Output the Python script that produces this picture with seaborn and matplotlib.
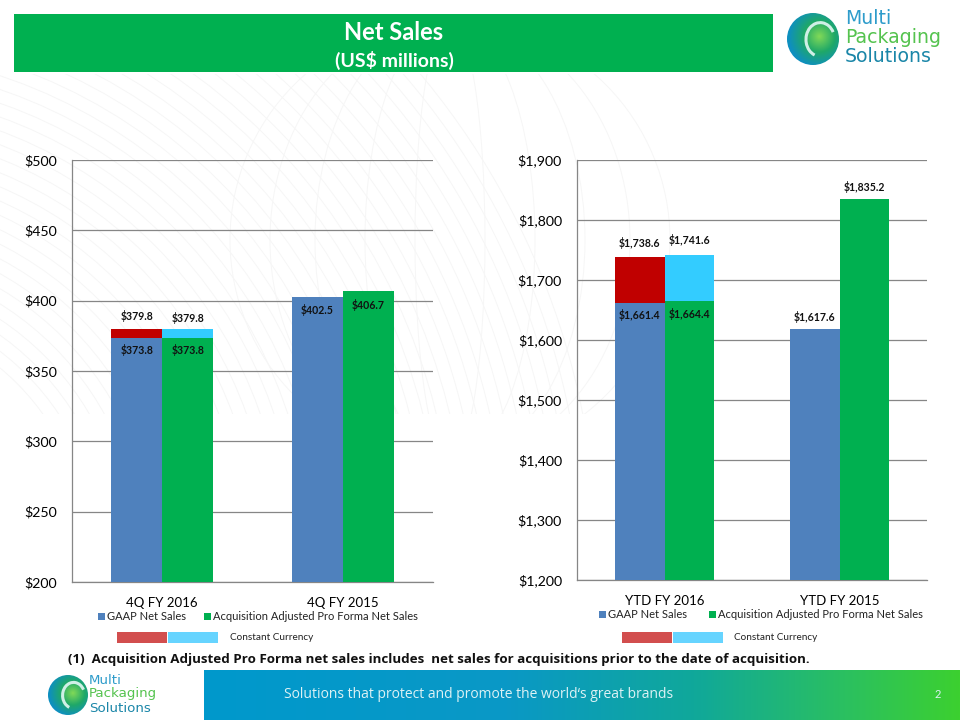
import numpy as np
import pandas as pd
import matplotlib
matplotlib.use("Agg")
import matplotlib.pyplot as plt
from matplotlib.patches import Rectangle, Circle, Ellipse, Arc
import seaborn as sns

sns.set_theme(style="white")
plt.rcParams["font.family"] = ["Lato", "DejaVu Sans"]

# ---- data ----
cats_left = ["4Q FY 2016", "4Q FY 2015"]
gaap_left = [373.8, 402.5]
adj_left = [373.8, 406.7]
cc_gaap_left = [379.8, np.nan]
cc_adj_left = [379.8, np.nan]
ticks_left = [200, 250, 300, 350, 400, 450, 500]

cats_right = ["YTD FY 2016", "YTD FY 2015"]
gaap_right = [1661.4, 1617.6]
adj_right = [1664.4, 1835.2]
cc_gaap_right = [1738.6, np.nan]
cc_adj_right = [1741.6, np.nan]
ticks_right = [1200, 1300, 1400, 1500, 1600, 1700, 1800, 1900]

series_names = ["GAAP Net Sales", "Acquisition Adjusted Pro Forma Net Sales"]

BLUE, GREEN, RED, CYAN = "#4F81BD", "#00B050", "#C00000", "#33CCFF"
GRID = "#868686"
W, H = 960, 720
PX = 0.72  # points per pixel at 100 dpi

fig = plt.figure(figsize=(9.6, 7.2), dpi=100, facecolor="white")
bg = fig.add_axes([0, 0, 1, 1], zorder=0)
bg.set_xlim(0, W); bg.set_ylim(H, 0); bg.axis("off")

# faint watermark: sweeping lines and a wire globe behind the charts
clip_band = Rectangle((0, 74), 680, 340, transform=bg.transData)
for r in np.arange(250, 760, 13):
    c = Circle((-160, 560), r, fill=False, ec="#F6F6F6", lw=0.7, zorder=0.2)
    bg.add_patch(c); c.set_clip_path(clip_band)
for w in (440, 360, 270, 170, 70):
    e = Ellipse((450, 240), w, 440, fill=False, ec="#F6F6F6", lw=0.7, zorder=0.2)
    bg.add_patch(e); e.set_clip_path(clip_band)

# title banner
bg.add_patch(Rectangle((14, 14), 759, 58, color=GREEN, lw=0))
bg.text(394, 32, "Net Sales", color="white", fontsize=17, fontweight="bold", ha="center", va="center")
bg.text(394, 60, "(US$ millions)", color="white", fontsize=14, fontweight="bold", ha="center", va="center")

# footer gradient
grad = np.linspace(0, 1, 256)[None, :]
cmap = matplotlib.colors.LinearSegmentedColormap.from_list(
    "f", [(0, "#0099CC"), (0.4, "#0A98C6"), (0.65, "#10A89A"), (0.85, "#2BC060"), (1, "#3CD030")])
bg.imshow(grad, extent=(204, 960, 720, 670), cmap=cmap, aspect="auto", zorder=1)
bg.set_xlim(0, W); bg.set_ylim(H, 0)
bg.text(284, 694, "Solutions that protect and promote the world\u2018s great brands", color="#DDF2F5",
        fontsize=10, ha="left", va="center", family="Open Sans", zorder=3)
bg.text(938, 694, "2", color="#DDF2F5", fontsize=8, ha="center", va="center", zorder=3)


def logo(cx, cy, r, tx, ty, fs, gap):
    yy, xx = np.mgrid[-1:1:80j, -1:1:80j]
    d = np.hypot(xx - 0.25, yy + 0.1)
    img = np.clip(d / 1.2, 0, 1)
    cm = matplotlib.colors.LinearSegmentedColormap.from_list("l", ["#7FD858", "#1FA868", "#0E8FC0"])
    im = bg.imshow(img, extent=(cx - r, cx + r, cy + r, cy - r), cmap=cm, zorder=2)
    im.set_clip_path(Circle((cx, cy), r, transform=bg.transData))
    bg.add_patch(Arc((cx + r * 0.28, cy + r * 0.02), r * 1.1, r * 1.3, theta1=110, theta2=330,
                     color="#CFEFE6", lw=2.2, zorder=3))
    bg.set_xlim(0, W); bg.set_ylim(H, 0)
    for k, (word, col) in enumerate(zip(["Multi", "Packaging", "Solutions"], ["#2E9CCB", "#55C34F", "#1A86A8"])):
        bg.text(tx, ty + k * gap, word, color=col, fontsize=fs, va="center", family="DejaVu Sans", zorder=3)


logo(813, 39, 26, 845, 19, 13.6, 18.5)
logo(68, 695, 20, 89, 680, 9.6, 14)


def long_form(cats, a, b):
    return pd.DataFrame({
        "cat": list(cats) * 2,
        "val": list(a) + list(b),
        "series": [series_names[0]] * len(cats) + [series_names[1]] * len(cats),
    })


def panel(rect, cats, gaap, adj, ccg, cca, ticks, ymin, ymax, base_offs, top_offs):
    x0, y0, x1, y1 = rect
    ax = fig.add_axes([x0 / W, 1 - y1 / H, (x1 - x0) / W, (y1 - y0) / H], zorder=2)
    ax.patch.set_alpha(0)
    common = dict(x="cat", y="val", hue="series", hue_order=series_names, width=0.565, gap=0, saturation=1,
                  legend=False, ax=ax, errorbar=None, linewidth=0, edgecolor="none")
    sns.barplot(data=long_form(cats, ccg, cca), palette=[RED, CYAN], zorder=3, **common)
    sns.barplot(data=long_form(cats, gaap, adj), palette=[BLUE, GREEN], zorder=4, **common)
    ax.set_xlim(-0.5, 1.5)
    ax.set_ylim(ymin, ymax)
    ax.set_xlabel(""); ax.set_ylabel("")
    ax.set_yticks(ticks)
    ax.set_yticklabels([f"${t:,}" for t in ticks], fontsize=10.2, color="black")
    ax.set_xticks([0, 1]); ax.set_xticklabels(cats, fontsize=9.5, color="black")
    ax.set_xticks([-0.5, 0.5, 1.5], minor=True)
    ax.tick_params(axis="x", which="major", length=0, pad=11)
    ax.tick_params(axis="x", which="minor", length=5 * PX, color=GRID, width=0.9, direction="out")
    ax.tick_params(axis="y", length=6 * PX, color=GRID, width=0.9, direction="out", pad=9 * PX)
    ax.yaxis.grid(True, color=GRID, lw=0.9); ax.xaxis.grid(False)
    ax.set_axisbelow(True)
    for s in ("top", "right"):
        ax.spines[s].set_visible(False)
    for s in ("left", "bottom"):
        ax.spines[s].set_color(GRID); ax.spines[s].set_linewidth(0.9)

    dx = 0.5 * 0.565 / 2
    lab = dict(fontsize=7.6, fontweight="bold", ha="center", va="center", zorder=6, color="#111111")
    for i in range(len(cats)):
        ax.annotate(f"${gaap[i]:,.1f}", (i - dx, gaap[i]), xytext=(0, base_offs[i][0]), textcoords="offset pixels", **lab)
        ax.annotate(f"${adj[i]:,.1f}", (i + dx, adj[i]), xytext=(0, base_offs[i][1]), textcoords="offset pixels", **lab)
        if not np.isnan(ccg[i]):
            ax.annotate(f"${ccg[i]:,.1f}", (i - dx, ccg[i]), xytext=(0, top_offs[0]), textcoords="offset pixels", **lab)
            ax.annotate(f"${cca[i]:,.1f}", (i + dx, cca[i]), xytext=(0, top_offs[1]), textcoords="offset pixels", **lab)
    return ax


panel((72, 160, 433, 582), cats_left, gaap_left, adj_left, cc_gaap_left, cc_adj_left, ticks_left, 200, 500,
      [(-12, -12), (-13, -14)], (13, 11))
panel((577, 160, 927, 580), cats_right, gaap_right, adj_right, cc_gaap_right, cc_adj_right, ticks_right, 1200, 1900,
      [(-12, -13), (12, 12)], (14, 15))


def legend(x_blue, x_green, y, cc_x, cc_text_x, cc_y):
    bg.add_patch(Rectangle((x_blue, y - 4), 7, 7, color=BLUE, lw=0))
    bg.text(x_blue + 9, y, series_names[0], fontsize=8, va="center", color="#222222")
    bg.add_patch(Rectangle((x_green, y - 4), 7, 7, color=GREEN, lw=0))
    bg.text(x_green + 9, y, series_names[1], fontsize=8, va="center", color="#222222")
    bg.add_patch(Rectangle((cc_x, cc_y - 5), 50, 11, color="#D24E4E", lw=0))
    bg.add_patch(Rectangle((cc_x + 51, cc_y - 5), 50, 11, color="#66D4FF", lw=0))
    bg.text(cc_text_x, cc_y + 1, "Constant Currency", fontsize=7.2, va="center", color="#222222")


legend(98, 204, 617, 117, 230, 637)
legend(599, 709, 615, 622, 734, 637)

bg.text(68, 659, "(1)  Acquisition Adjusted Pro Forma net sales includes  net sales for acquisitions prior to the date of acquisition.",
        fontsize=9.6, fontweight="bold", va="center", color="#111111", family="Open Sans")

fig.savefig("out.png", dpi=100)
